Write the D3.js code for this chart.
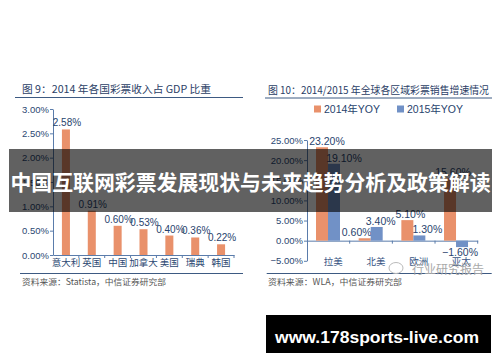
<!DOCTYPE html>
<html>
<head>
<meta charset="utf-8">
<script src="https://cdn.jsdelivr.net/npm/d3@7"></script>
<style>
  body { margin: 0; background: #fff; }
  svg { display: block; }
  text { font-family: "Liberation Sans", Arial, "Noto Sans CJK SC", sans-serif; }
  .cjk { font-family: "Noto Sans CJK SC", sans-serif; }
  .axis path, .axis line { stroke: #5a7cab; }
  .axis text { fill: #2c4872; font-size: 9.5px; }
</style>
</head>
<body>
<svg width="500" height="362"></svg>
<script>
// chart 9: lottery revenue share of GDP, 2014
var countries = ['意大利', '英国', '中国', '加拿大', '美国', '瑞典', '韩国'];
var gdpShare = [2.58, 0.91, 0.60, 0.53, 0.40, 0.36, 0.22];
var shareTicks = [0, 0.5, 1, 1.5, 2, 2.5, 3];

// chart 10: regional lottery sales growth
var regions = ['拉美', '北美', '欧洲', '亚太'];
var seriesNames = ['2014年YOY', '2015年YOY'];
var yoy2014 = [23.2, 0.6, 5.1, 15.6];
var yoy2015 = [19.1, 3.4, 1.3, -1.6];
var yoyTicks = [-5, 0, 5, 10, 15, 20, 25];

var orange = '#e9916b', blue = '#7191c6', ink = '#28436d';
var fmt = function(v) { return d3.format('.2f')(v) + '%'; };

var svg = d3.select('svg');

// ---------- left chart ----------
var x = d3.scaleBand().domain(countries).range([53, 234])
  .paddingInner(0.69).paddingOuter(0.345);
var y = d3.scaleLinear().domain([0, 3]).range([255, 109]);

svg.append('text').attr('class', 'cjk').attr('x', 22).attr('y', 93)
  .attr('font-size', 10.5).attr('fill', '#2b4066')
  .attr('textLength', 189).attr('lengthAdjust', 'spacingAndGlyphs')
  .text('图 9：2014 年各国彩票收入占 GDP 比重');
svg.append('line').attr('x1', 15).attr('x2', 243).attr('y1', 97.5).attr('y2', 97.5)
  .attr('stroke', '#3d5a82').attr('stroke-width', 1);

svg.append('g').attr('class', 'axis').attr('transform', 'translate(53,0)')
  .call(d3.axisLeft(y).tickValues(shareTicks).tickSize(3).tickPadding(1).tickSizeOuter(0).tickFormat(fmt))
  .call(function(g) { g.selectAll('text').attr('font-size', 9.5); });

var xAxis = svg.append('g').attr('class', 'axis').attr('transform', 'translate(0,255)')
  .call(d3.axisBottom(x).tickSize(0).tickPadding(4).tickSizeOuter(0));
xAxis.selectAll('text').attr('class', 'cjk').attr('font-size', 9);
xAxis.selectAll('line.sep').data(countries).enter().append('line')
  .attr('x1', function(d) { return x(d) - x.step() * 0.345 + x.step(); })
  .attr('x2', function(d) { return x(d) - x.step() * 0.345 + x.step(); })
  .attr('y1', 0).attr('y2', 3).attr('stroke', '#5a7cab');

svg.append('g').selectAll('rect').data(gdpShare).enter().append('rect')
  .attr('x', function(d, i) { return x(countries[i]); })
  .attr('y', function(d) { return y(d); })
  .attr('width', x.bandwidth())
  .attr('height', function(d) { return y(0) - y(d); })
  .attr('fill', orange);

svg.append('g').selectAll('text').data(gdpShare).enter().append('text')
  .attr('x', function(d, i) { return x(countries[i]) + x.bandwidth() / 2 + 1; })
  .attr('y', function(d) { return y(d) - 3; })
  .attr('text-anchor', 'middle').attr('font-size', 10).attr('fill', ink)
  .text(fmt);

svg.append('line').attr('x1', 20).attr('x2', 243).attr('y1', 273.5).attr('y2', 273.5)
  .attr('stroke', '#3d5a82').attr('stroke-width', 1);
svg.append('text').attr('class', 'cjk').attr('x', 22).attr('y', 284.7)
  .attr('font-size', 8.5).attr('fill', '#555')
  .attr('textLength', 144).attr('lengthAdjust', 'spacingAndGlyphs')
  .text('资料来源：Statista，中信证券研究部');

// ---------- right chart ----------
var x0 = d3.scaleBand().domain(regions).range([307, 477.7]);
var x1 = d3.scaleBand().domain(seriesNames).range([9, 33]);
var y2 = d3.scaleLinear().domain([-5, 25]).range([260.8, 140]);
var series = [yoy2014, yoy2015];
var colors = [orange, blue];
// small label nudges, as placed in the source picture
var labelShift = [[5, -8, 3, 3], [10, 4, 8, -2]];

svg.append('text').attr('class', 'cjk').attr('x', 268).attr('y', 94)
  .attr('font-size', 10.5).attr('fill', '#2b4066')
  .attr('textLength', 221).attr('lengthAdjust', 'spacingAndGlyphs')
  .text('图 10：2014/2015 年全球各区域彩票销售增速情况');
svg.append('line').attr('x1', 265).attr('x2', 492).attr('y1', 98).attr('y2', 98)
  .attr('stroke', '#3d5a82').attr('stroke-width', 1);

var legend = svg.append('g').selectAll('g').data(seriesNames).enter().append('g')
  .attr('transform', function(d, i) { return 'translate(' + (314 + i * 83) + ',0)'; });
legend.append('rect').attr('x', 0).attr('y', 105.5).attr('width', 7).attr('height', 7)
  .attr('fill', function(d, i) { return colors[i]; });
legend.append('text').attr('x', 10).attr('y', 112.5).attr('font-size', 10.5)
  .attr('fill', ink).text(function(d) { return d; });

svg.append('g').attr('class', 'axis').attr('transform', 'translate(307,0)')
  .call(d3.axisLeft(y2).tickValues(yoyTicks).tickSize(3).tickPadding(1).tickSizeOuter(0).tickFormat(fmt));

var xAxis2 = svg.append('g').attr('class', 'axis').attr('transform', 'translate(0,' + y2(0) + ')')
  .call(d3.axisBottom(x0).tickSize(0).tickSizeOuter(0).tickFormat(''));
xAxis2.selectAll('line.sep').data(regions).enter().append('line')
  .attr('x1', function(d) { return x0(d) + x0.step(); })
  .attr('x2', function(d) { return x0(d) + x0.step(); })
  .attr('y1', 0).attr('y2', 3).attr('stroke', '#5a7cab');

svg.append('g').selectAll('text').data(regions).enter().append('text')
  .attr('class', 'cjk')
  .attr('x', function(d) { return x0(d) + x0.bandwidth() / 2 + 5; })
  .attr('y', 265).attr('text-anchor', 'middle')
  .attr('font-size', 9.5).attr('fill', '#3a5684')
  .text(function(d) { return d; });

series.forEach(function(vals, s) {
  var g = svg.append('g');
  g.selectAll('rect').data(vals).enter().append('rect')
    .attr('x', function(d, i) { return x0(regions[i]) + x1(seriesNames[s]); })
    .attr('y', function(d) { return y2(Math.max(0, d)); })
    .attr('width', x1.bandwidth())
    .attr('height', function(d) { return Math.abs(y2(d) - y2(0)); })
    .attr('fill', colors[s]);
  g.selectAll('text').data(vals).enter().append('text')
    .attr('x', function(d, i) { return x0(regions[i]) + x1(seriesNames[s]) + x1.bandwidth() / 2 + labelShift[s][i]; })
    .attr('y', function(d) { return d >= 0 ? y2(d) - 2 : y2(d) + 9; })
    .attr('text-anchor', 'middle').attr('font-size', 10.5).attr('fill', ink)
    .text(fmt);
});

svg.append('line').attr('x1', 266.7).attr('x2', 491.7).attr('y1', 273.5).attr('y2', 273.5)
  .attr('stroke', '#3d5a82').attr('stroke-width', 1);
svg.append('text').attr('class', 'cjk').attr('x', 268).attr('y', 284.7)
  .attr('font-size', 8.5).attr('fill', '#555')
  .attr('textLength', 134).attr('lengthAdjust', 'spacingAndGlyphs')
  .text('资料来源：WLA，中信证券研究部');

// watermark
svg.append('ellipse').attr('cx', 396).attr('cy', 268).attr('rx', 7).attr('ry', 5.5)
  .attr('fill', 'none').attr('stroke', '#bbb').attr('stroke-width', 1);
svg.append('text').attr('class', 'cjk').attr('x', 412).attr('y', 274)
  .attr('font-size', 12).attr('fill', '#a9a9a9')
  .attr('textLength', 72).attr('lengthAdjust', 'spacingAndGlyphs')
  .text('行业研究报告');

// ---------- overlays ----------
svg.append('rect').attr('x', 9).attr('y', 149).attr('width', 483).attr('height', 63)
  .attr('fill', 'rgba(0,0,0,0.62)');
svg.append('text').attr('class', 'cjk').attr('x', 10.5).attr('y', 190)
  .attr('font-size', 21).attr('font-weight', 'bold').attr('fill', '#fff')
  .attr('textLength', 480).attr('lengthAdjust', 'spacingAndGlyphs')
  .text('中国互联网彩票发展现状与未来趋势分析及政策解读');

svg.append('rect').attr('x', 266).attr('y', 315).attr('width', 225).attr('height', 38)
  .attr('fill', '#000');
svg.append('text').attr('x', 275).attr('y', 342.5)
  .attr('font-family', '"Open Sans", "DejaVu Sans", sans-serif')
  .attr('font-size', 17).attr('font-weight', 'bold').attr('fill', '#fff')
  .attr('textLength', 204).attr('lengthAdjust', 'spacingAndGlyphs')
  .text('www.178sports-live.com');
</script>
</body>
</html>
